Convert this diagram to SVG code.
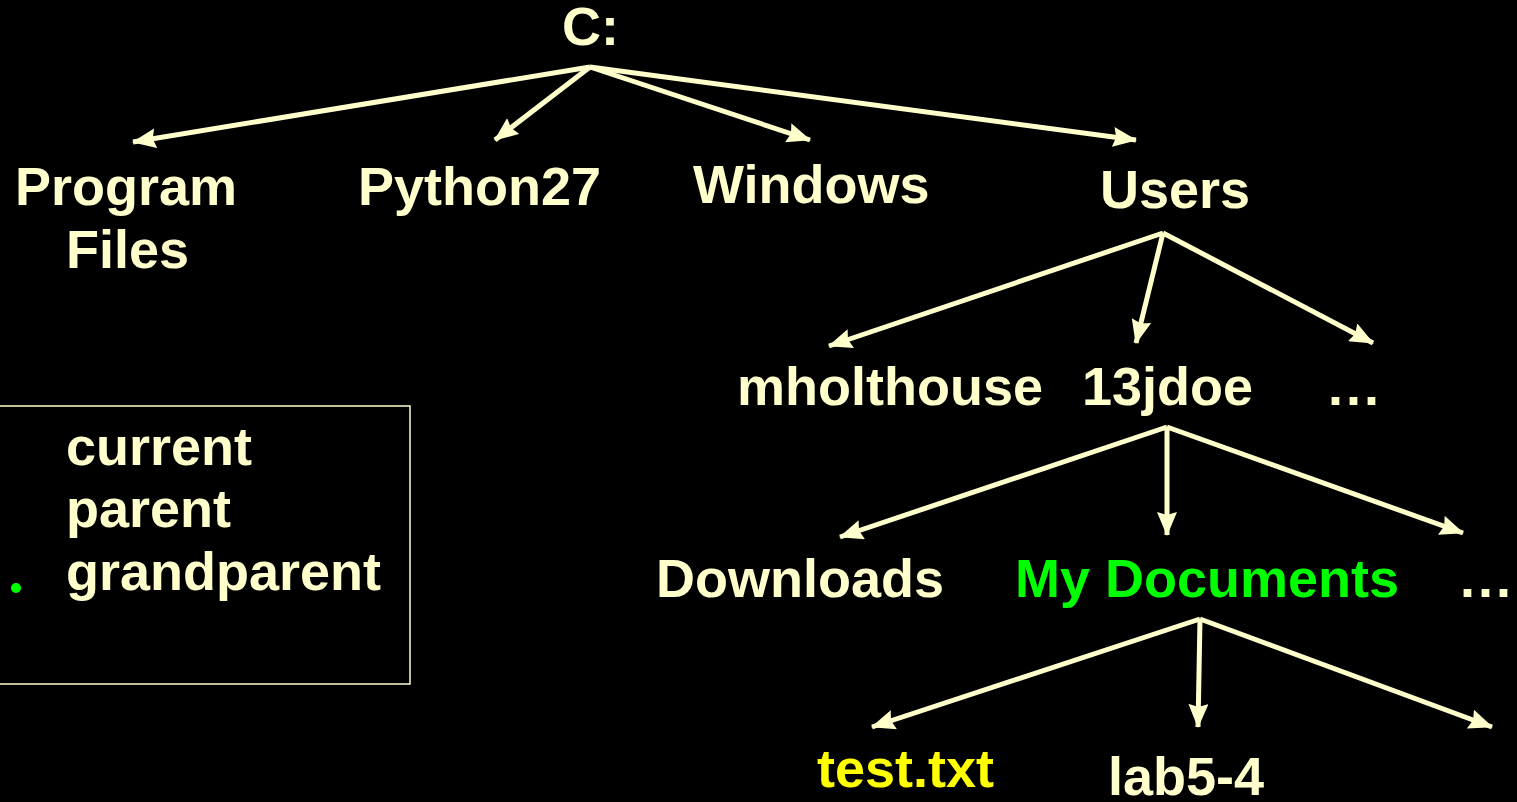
<svg xmlns="http://www.w3.org/2000/svg" width="1517" height="802" viewBox="0 0 1517 802">
<style>
text{font-family:"Liberation Sans",Arial,sans-serif;font-weight:bold;font-size:54px;fill:#FFFFCC}
.g{fill:#00FF00}
.y{fill:#FFFF00}
.d{letter-spacing:3px}
.c line{stroke:#FFFFCC;stroke-width:5;marker-end:url(#ah)}
</style>
<defs>
<marker id="ah" markerUnits="userSpaceOnUse" viewBox="0 0 24 20" refX="23" refY="10" markerWidth="24" markerHeight="20" orient="auto">
<path d="M0,0 L24,10 L0,20 L3,10 Z" fill="#FFFFCC"/>
</marker>
</defs>
<rect width="1517" height="802" fill="#000"/>
<g id="legend">
<rect x="-10" y="406" width="420" height="278" fill="none" stroke="#FFFFCC" stroke-width="1.5"/>
<text x="66" y="465">current</text>
<text x="66" y="527">parent</text>
<text x="66" y="590">grandparent</text>
<circle cx="16" cy="588" r="5" fill="#00FF00"/>
</g>
<g class="c" id="connectors">
<line x1="590" y1="67" x2="133" y2="142"/>
<line x1="590" y1="67" x2="495" y2="140"/>
<line x1="590" y1="67" x2="810" y2="140"/>
<line x1="590" y1="67" x2="1136" y2="140"/>
<line x1="1163" y1="233" x2="829" y2="346"/>
<line x1="1163" y1="233" x2="1136" y2="343"/>
<line x1="1163" y1="233" x2="1373" y2="343"/>
<line x1="1167" y1="427" x2="840" y2="537"/>
<line x1="1167" y1="427" x2="1167" y2="535"/>
<line x1="1167" y1="427" x2="1463" y2="533"/>
<line x1="1200" y1="619" x2="872" y2="727"/>
<line x1="1200" y1="619" x2="1198" y2="727"/>
<line x1="1200" y1="619" x2="1492" y2="727"/>
</g>
<g id="n-c"><text x="562" y="45">C:</text></g>
<g id="n-program"><text x="15" y="205">Program</text><text x="66" y="268">Files</text></g>
<g id="n-python"><text x="358" y="205">Python27</text></g>
<g id="n-windows"><text x="693" y="203">Windows</text></g>
<g id="n-users"><text x="1100" y="208">Users</text></g>
<g id="n-mholthouse"><text x="737" y="405">mholthouse</text></g>
<g id="n-13jdoe"><text x="1082" y="405">13jdoe</text></g>
<g id="n-etc1"><text class="d" x="1328" y="405">...</text></g>
<g id="n-downloads"><text x="656" y="597">Downloads</text></g>
<g id="n-mydocs"><text class="g" x="1015" y="597">My Documents</text></g>
<g id="n-etc2"><text class="d" x="1460" y="597">...</text></g>
<g id="n-test"><text class="y" x="817" y="787">test.txt</text></g>
<g id="n-lab"><text x="1108" y="795">lab5-4</text></g>
</svg>
